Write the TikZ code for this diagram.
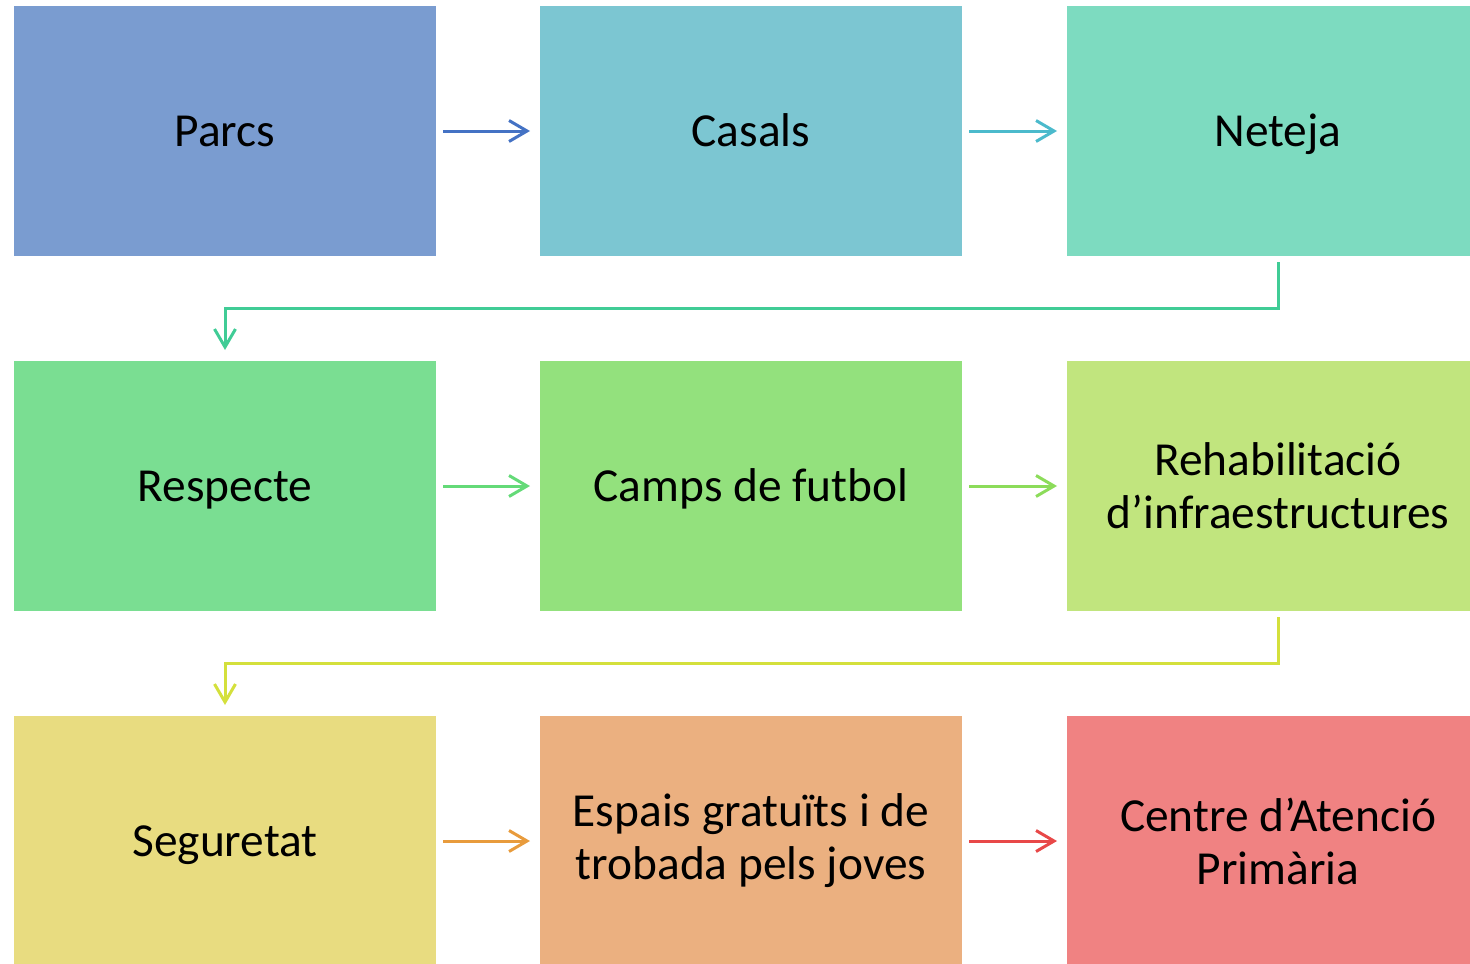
\documentclass[tikz,border=0pt]{standalone}
\usepackage{fontspec}
\setmainfont{Carlito}
\usetikzlibrary{arrows.meta}
\definecolor{fParcs}{RGB}{122,156,208}
\definecolor{fCasals}{RGB}{124,198,210}
\definecolor{fNeteja}{RGB}{125,219,192}
\definecolor{fRespecte}{RGB}{122,222,146}
\definecolor{fCamps}{RGB}{147,225,125}
\definecolor{fRehab}{RGB}{193,229,126}
\definecolor{fSeg}{RGB}{232,220,128}
\definecolor{fEspais}{RGB}{235,176,128}
\definecolor{fCentre}{RGB}{240,130,130}
\definecolor{aBlue}{RGB}{68,114,196}
\definecolor{aTeal}{RGB}{75,186,204}
\definecolor{aGreen}{RGB}{64,204,150}
\definecolor{aLGreen}{RGB}{100,218,120}
\definecolor{aLime}{RGB}{140,220,90}
\definecolor{aYellow}{RGB}{212,224,60}
\definecolor{aOrange}{RGB}{232,155,60}
\definecolor{aRed}{RGB}{232,72,72}
\tikzset{
  box/.style={rectangle, minimum width=211pt, minimum height=125pt, inner sep=0pt, outer sep=0pt,
    align=center, text=black, font=\fontsize{23.7}{26.5}\selectfont},
  one/.style={box, text height=15pt, text depth=0pt},
  flow/.style={line width=1.5pt, -{Straight Barb[length=9pt,width=10.5pt,line width=1.5pt]},
    shorten <=3.5pt, shorten >=5pt},
  turn/.style={line width=1.5pt, -{Straight Barb[length=9pt,width=10.5pt,line width=1.5pt]}}
}
\begin{document}
\begin{tikzpicture}[x=0.5pt,y=-0.5pt]
\useasboundingbox (0,0) rectangle (1470,963);
\node[one, fill=fParcs] (Parcs) at (225,131) {Parcs};
\node[one, fill=fCasals] (Casals) at (751,131) {Casals};
\node[one, fill=fNeteja] (Neteja) at (1278,131) {Neteja};
\node[one, fill=fRespecte] (Respecte) at (225,486) {Respecte};
\node[one, fill=fCamps] (Camps) at (751,486) {Camps de futbol};
\node[box, fill=fRehab] (Rehab) at (1278,486) {Rehabilitació\\d’infraestructures};
\node[one, fill=fSeg] (Seg) at (225,841) {Seguretat};
\node[box, fill=fEspais] (Espais) at (751,841) {Espais gratuïts i de\\trobada pels joves};
\node[box, fill=fCentre] (Centre) at (1278,841) {Centre d’Atenció\\Primària};
\draw[flow, aBlue] (Parcs) -- (Casals);
\draw[flow, aTeal] (Casals) -- (Neteja);
\draw[turn, aGreen] ([yshift=-3pt]Neteja.south) -- ++(0,46) -| ([yshift=5.5pt]Respecte.north);
\draw[flow, aLGreen] (Respecte) -- (Camps);
\draw[flow, aLime] (Camps) -- (Rehab);
\draw[turn, aYellow] ([yshift=-3pt]Rehab.south) -- ++(0,46) -| ([yshift=5.5pt]Seg.north);
\draw[flow, aOrange] (Seg) -- (Espais);
\draw[flow, aRed] (Espais) -- (Centre);
\end{tikzpicture}
\end{document}
